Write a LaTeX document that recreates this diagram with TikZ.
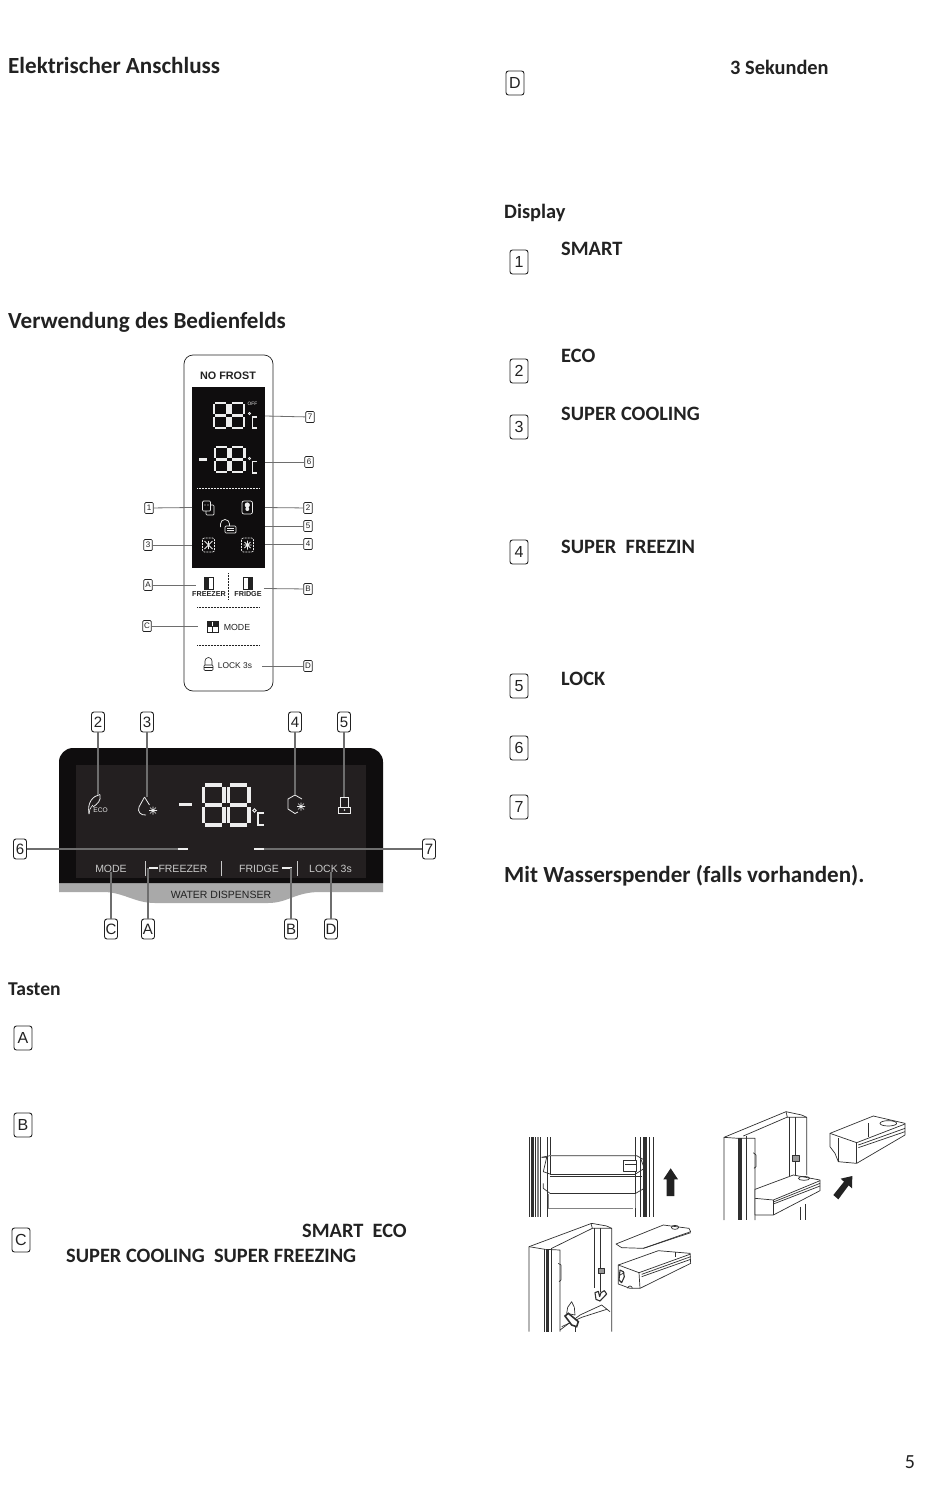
\documentclass[tikz,border=0pt]{standalone}
\usepackage{fontspec}
\setmainfont{Carlito}
\newfontfamily\lab{Liberation Sans}
\usetikzlibrary{arrows.meta,calc}
\definecolor{ink}{HTML}{222222}
\definecolor{disp}{HTML}{0F0D0E}
\definecolor{dispin}{HTML}{231F20}
\definecolor{strip}{HTML}{A9A9A9}
\definecolor{conn}{HTML}{6E6E6E}
\definecolor{seg}{HTML}{EDEDED}
\definecolor{art}{HTML}{303030}
\newcommand{\fs}[1]{\fontsize{#1}{#1}\selectfont}
% x y w h linewidth
\newcommand{\segeight}[5]{%
 \pgfmathsetmacro{\xa}{#1}\pgfmathsetmacro{\xb}{#1+#3}\pgfmathsetmacro{\ya}{#2}\pgfmathsetmacro{\yb}{#2+#4}\pgfmathsetmacro{\ym}{#2+#4/2}%
 \pgfmathsetmacro{\g}{#5*0.62}%
 \draw[seg,line width=#5pt]
  ({\xa+\g},\ya)--({\xb-\g},\ya) ({\xa+\g},\ym)--({\xb-\g},\ym) ({\xa+\g},\yb)--({\xb-\g},\yb)
  (\xa,{\ya+\g})--(\xa,{\ym-\g}) (\xb,{\ya+\g})--(\xb,{\ym-\g})
  (\xa,{\ym+\g})--(\xa,{\yb-\g}) (\xb,{\ym+\g})--(\xb,{\yb-\g});}
\tikzset{
 x=1pt,y=-1pt,
 head/.style={font=\bfseries\fs{23.1},text=ink,anchor=base west,inner sep=0pt},
 sub/.style={font=\bfseries\fs{20.4},text=ink,anchor=base west,inner sep=0pt,yshift=-.7pt},
 bigbox/.style={draw=ink,line width=.9pt,rounded corners=2.5pt,minimum width=18pt,minimum height=24pt,inner sep=0pt,font=\lab\fs{16},text=ink},
 midbox/.style={draw=ink,line width=.9pt,rounded corners=2.5pt,minimum width=13pt,minimum height=20pt,inner sep=0pt,font=\lab\fs{15},text=ink},
 smallbox/.style={draw=ink,line width=.7pt,rounded corners=1pt,minimum width=8.5pt,minimum height=11pt,inner sep=0pt,font=\lab\fs{8},text=ink},
 thinconn/.style={draw=conn,line width=.8pt},
 fatconn/.style={draw=conn,line width=1.5pt},
 paneltxt/.style={font=\lab\bfseries\fs{7.2},text=ink,inner sep=0pt},
 lcdtxt/.style={font=\lab\fs{10.5},text=seg!85!black,inner sep=0pt},
 arte/.style={draw=art,line width=.7pt,line join=round},
 artb/.style={draw=art,line width=1.6pt},
 artl/.style={draw=art!60,line width=.7pt},
}
\begin{document}
\begin{tikzpicture}
\useasboundingbox (0,0) rectangle (950,1488);
\fill[white] (0,0) rectangle (950,1488);

% ---- running text
\node[head] (t1) at (8,73.5) {Elektrischer Anschluss};
\node[head] (t2) at (8,328) {Verwendung des Bedienfelds};
\node[head] (t3) at (504,882) {Mit Wasserspender (falls vorhanden).};
\node[sub] (t4) at (730,74) {3 Sekunden};
\node[sub] (t5) at (504,218) {Display};
\node[sub,font=\bfseries\fs{19.6}] (t6) at (8,995) {Tasten};
\node[sub] (t7) at (561,255) {SMART};
\node[sub] (t8) at (561,362) {ECO};
\node[sub] (t9) at (561,420) {SUPER COOLING};
\node[sub] (t10) at (561,553) {SUPER\ \ FREEZIN};
\node[sub] (t11) at (561,685) {LOCK};
\node[sub] (t12) at (302,1237) {SMART\ \ ECO};
\node[sub] (t13) at (66,1262) {SUPER COOLING\ \ SUPER FREEZING};
\node[font=\fs{20},text=ink,anchor=base,inner sep=0pt] (pg) at (910,1468) {5};

% ---- text boxes
\node[bigbox] (kD) at (515,83) {D};
\node[bigbox] (k1) at (519,262) {1};
\node[bigbox] (k2) at (519,371) {2};
\node[bigbox] (k3) at (519,427) {3};
\node[bigbox] (k4) at (519,552) {4};
\node[bigbox] (k5) at (519,686) {5};
\node[bigbox] (k6) at (519,748) {6};
\node[bigbox] (k7) at (519,807) {7};
\node[bigbox] (kA) at (23,1038) {A};
\node[bigbox] (kB) at (23,1125) {B};
\node[bigbox] (kC) at (21,1240) {C};

% ---- vertical panel
\draw[ink,line width=.7pt,rounded corners=9pt] (184,355) rectangle (273,691);
\node[font=\lab\bfseries\fs{10.8},text=ink,inner sep=0pt] (nf) at (228,376) {NO FROST};
\fill[disp] (192,387) rectangle (265,568);
\segeight{214}{403}{13.5}{25}{2.2}
\segeight{230.5}{403}{13.5}{25}{2.2}
\node[font=\lab\fs{4.8},text=seg,inner sep=0pt] (off) at (252.5,404) {OFF};
\draw[seg,line width=.7pt] (249.5,413.5) circle (1.2);
\draw[seg,line width=1.1pt] (256.5,417)--(252.5,417)--(252.5,428)--(256.5,428);
\draw[seg,line width=2.4pt] (199,459.5)--(207,459.5);
\segeight{215}{447}{13.5}{25}{2.2}
\segeight{231}{447}{13.5}{25}{2.2}
\draw[seg,line width=.7pt] (249.5,458.5) circle (1.2);
\draw[seg,line width=1.1pt] (256.5,461.5)--(252.5,461.5)--(252.5,473)--(256.5,473);
\draw[seg,densely dotted,line width=.5pt] (197,488)--(260,488);
% icons
\draw[seg,line width=.7pt,rounded corners=1pt] (202.5,501)rectangle(210.5,511);
\draw[seg,line width=.7pt,rounded corners=1pt] (210.5,505)--(214,505)--(214,515)--(206,515)--(206,511);
\fill[seg] (205,505) circle (.7) (208,505) circle (.7);
\draw[seg,line width=.7pt,rounded corners=2pt] (242,501)rectangle(252.5,514);
\fill[seg] (247.3,505) circle (2.6) (247.3,509) circle (2);
\draw[seg,line width=.7pt] (220.5,527)--(220.5,524) arc (180:360:4.5)--(229.5,526);
\draw[seg,line width=.7pt,rounded corners=1pt] (225,526) rectangle (236,533);
\draw[seg,line width=.5pt] (227,528.5)--(234,528.5) (227,530.5)--(234,530.5);
\draw[seg,dash pattern=on 2pt off 1pt,line width=.7pt,rounded corners=2pt] (202.5,538)rectangle(214.5,552);
\draw[seg,line width=.8pt] (204.5,541)--(212.5,549) (212.5,541)--(204.5,549) (208.5,541)--(208.5,549);
\draw[seg,dash pattern=on 2pt off 1pt,line width=.7pt,rounded corners=2pt] (241.5,538)rectangle(253.5,552);
\draw[seg,line width=.8pt] (243.5,545)--(251.5,545) (247.5,540.5)--(247.5,549.5) (244.5,542)--(250.5,548) (250.5,542)--(244.5,548);
% keys
\draw[ink,line width=.6pt] (204.5,577) rectangle (213,589);
\fill[ink] (204.5,577) rectangle (209,589);
\node[paneltxt] (fz) at (209,594.5) {FREEZER};
\draw[ink,line width=.6pt] (243.5,577) rectangle (252,589);
\fill[ink] (248,577) rectangle (252,589);
\node[paneltxt] (fr) at (248,594.5) {FRIDGE};
\draw[ink,densely dotted,line width=.5pt] (228.5,573)--(228.5,600);
\draw[ink,densely dotted,line width=.5pt] (197,607.5)--(260,607.5);
\fill[ink] (207,621) rectangle (218,626.5);
\draw[ink,line width=.6pt] (207,621) rectangle (218,632) (212.5,626.5)--(212.5,632);
\draw[white,line width=.5pt] (212.5,621.5)--(212.5,626);
\node[font=\lab\fs{8.8},text=ink,inner sep=0pt] (md) at (237,627) {MODE};
\draw[ink,densely dotted,line width=.5pt] (197,645.5)--(260,645.5);
\draw[ink,line width=.6pt] (205,665)--(205,661) arc (180:360:3.5)--(212,665);
\draw[ink,line width=.6pt,rounded corners=1pt] (204,665) rectangle (213,670.5) (204,667.5)--(213,667.5);
\node[font=\lab\fs{8.4},text=ink,inner sep=0pt] (lk) at (235,665.5) {LOCK 3s};

% small call-outs
\node[smallbox] (s7) at (310,417) {7};
\node[smallbox] (s6) at (309,462) {6};
\node[smallbox] (s1) at (149,508) {1};
\node[smallbox] (s2) at (308,508) {2};
\node[smallbox] (s5) at (308,526) {5};
\node[smallbox] (s3) at (148,545) {3};
\node[smallbox] (s4) at (308,544) {4};
\node[smallbox] (sA) at (148,585) {A};
\node[smallbox] (sB) at (308,589) {B};
\node[smallbox] (sC) at (147,626) {C};
\node[smallbox] (sD) at (308,666) {D};
\coordinate (e7) at (265,416);
\coordinate (e6) at (265,462);
\coordinate (e1) at (192,507.5);
\coordinate (e2) at (265,507.5);
\coordinate (e5) at (265,526);
\coordinate (e3) at (192,545);
\coordinate (e4) at (265,544);
\coordinate (eA) at (196,585);
\coordinate (eB) at (264,588.5);
\coordinate (eC) at (198,626);
\coordinate (eD) at (262,666);
\draw[thinconn] (s7)--(e7); \draw[thinconn] (s6)--(e6);
\draw[thinconn] (s1)--(e1); \draw[thinconn] (s2)--(e2);
\draw[thinconn] (s5)--(e5); \draw[thinconn] (s3)--(e3);
\draw[thinconn] (s4)--(e4); \draw[thinconn] (sA)--(eA);
\draw[thinconn] (sB)--(eB); \draw[thinconn] (sC)--(eC);
\draw[thinconn] (sD)--(eD);

% ---- horizontal panel
\fill[strip] (59,880) -- (59,892) -- (105,892) .. controls (125,893) and (135,903) .. (155,903)
 -- (268,903) .. controls (288,903) and (295,892) .. (320,892) -- (383,892) -- (383,880) -- cycle;
\fill[disp] (59,883) [rounded corners=14pt] -- (59,748) -- (383,748) [sharp corners] -- (383,883) -- cycle;
\fill[dispin] (76,765) rectangle (366,878);
\node[font=\lab\fs{10.5},text=ink,inner sep=0pt] (wd) at (221,895) {WATER\ DISPENSER};
\draw[seg,line width=3.6pt] (179,804.5)--(192,804.5);
\segeight{203.5}{785}{20.5}{40}{3.2}
\segeight{228.5}{785}{20.5}{40}{3.2}
\draw[seg,line width=.9pt] (254.5,810.5) circle (1.7);
\draw[seg,line width=1.5pt] (264,813)--(258,813)--(258,825)--(264,825);
% icons
\coordinate (j2) at (98,795);
\draw[seg,line width=.8pt] (89,814) .. controls (87,802) and (93,796) .. (100,794.5);
\draw[seg,line width=.8pt] (100,794.5) .. controls (101.5,801) and (97,804) .. (93,807);
\draw[seg,line width=.6pt] (93,805) .. controls (90,808) and (89,811) .. (89,814);
\node[font=\lab\fs{6.6},text=seg,inner sep=0pt] (eco) at (100.5,810.5) {ECO};
\coordinate (j3) at (147,797);
\draw[seg,line width=.8pt] (144.5,797) -- (139,807) .. controls (137,812) and (141,815.5) .. (146,815);
\draw[seg,line width=.8pt] (144.5,797)--(149.5,805);
\draw[seg,line width=.6pt] (149,810.5)--(157,810.5) (153,806.5)--(153,814.5) (150,807.5)--(156,813.5) (156,807.5)--(150,813.5);
\coordinate (j4) at (295,795);
\draw[seg,line width=.8pt] (302,799)--(295,795)--(288,799)--(288,809)--(295,813.5)--(298,812);
\draw[seg,line width=.6pt] (297,806.5)--(305,806.5) (301,802.5)--(301,810.5) (298,803.5)--(304,809.5) (304,803.5)--(298,809.5);
\coordinate (j5) at (344,797);
\draw[seg,line width=.8pt] (340,807)--(340,797.5)--(348.5,797.5)--(348.5,807);
\draw[seg,line width=.8pt] (338.5,807)rectangle(350.5,813.5);
\fill[seg] (344.5,810) circle (.8);
% labels in LCD
\node[lcdtxt] (mo) at (111,868.5) {MODE};
\node[lcdtxt] (fzb) at (183,868.5) {FREEZER};
\node[lcdtxt] (frb) at (259,868.5) {FRIDGE};
\node[lcdtxt] (lkb) at (330.5,868.5) {LOCK 3s};
\draw[seg!85!black,line width=.7pt] (145.5,861)--(145.5,876) (221,861)--(221,876) (297,861)--(297,876);
\coordinate (dA) at (148,868);
\coordinate (dB) at (291,868);
\coordinate (d6) at (178,849);
\coordinate (d7) at (264,849);
\draw[seg,line width=1.8pt] (149,868)--(158,868) (282,868)--(292,868) (178,849)--(188,849) (254,849)--(264,849);
% call-outs
\node[midbox] (b2) at (98,722) {2};
\node[midbox] (b3) at (147,722) {3};
\node[midbox] (b4) at (295,722) {4};
\node[midbox] (b5) at (344,722) {5};
\node[midbox] (bC) at (111,929) {C};
\node[midbox] (bA) at (148,929) {A};
\node[midbox] (bB) at (291,929) {B};
\node[midbox] (bD) at (331,929) {D};
\node[midbox] (b6) at (20,849) {6};
\node[midbox] (b7) at (429,849) {7};
\draw[fatconn] (b2)--(j2); \draw[fatconn] (b3)--(j3);
\draw[fatconn] (b4)--(j4); \draw[fatconn] (b5)--(j5);
\draw[fatconn] (bC)--(mo.south); \draw[fatconn] (bA)--(dA);
\draw[fatconn] (bB)--(dB); \draw[fatconn] (bD)--(lkb.south-|bD);
\draw[fatconn] (b6)--(d6); \draw[fatconn] (b7)--(d7);

% ---- illustration 1
\begin{scope}[shift={(515,1100)},x=.33333pt,y=-.33333pt]
\draw[arte] (42,112)--(42,350) (62,112)--(62,350) (76,112)--(76,350) (96,112)--(96,350) (107,112)--(107,165);
\draw[artb,line width=3.2pt] (53,112)--(53,350);
\draw[artl,line width=1.8pt] (69,112)--(69,350);
\draw[arte] (362,112)--(362,350) (376,112)--(376,350) (402,112)--(402,350) (415,112)--(415,350);
\draw[artb,line width=3.2pt] (390,112)--(390,350);
\draw[arte] (80,172)--(105,167)--(365,167)--(388,180);
\draw[arte] (80,172)--(95,172)--(85,215)--(105,222);
\draw[arte] (105,167)--(105,222);
\draw[artb] (105,223)--(360,223);
\draw[arte] (360,223)--(388,205)--(375,170);
\draw[arte] (105,230)--(380,230);
\draw[arte,fill=white] (325,180)--(365,180)--(365,215)--(325,215)--cycle;
\draw[arte] (330,192)--(365,192);
\draw[arte] (85,250)--(85,265)--(105,280);
\draw[artb] (105,281)--(360,281);
\draw[arte] (360,281)--(388,265)--(388,250);
\draw[artl] (100,325)--(355,325);
\draw[artl] (100,282)--(100,325) (362,282)--(362,325);
\fill[ink] (455,288)--(455,238)--(445,238)--(467,205)--(489,238)--(478,238)--(478,288)--cycle;
% ---- illustration 3
\draw[arte] (42,695)--(42,440)--(230,370)--(275,378)--(290,385)--(290,695);
\draw[arte] (42,440)--(90,448)--(135,450)--(135,695);
\draw[arte] (110,445)--(232,385)--(290,385);
\draw[arte] (228,370)--(232,385);
\draw[artb,line width=2.6pt] (97,448)--(97,695);
\draw[arte] (88,448)--(88,695) (110,445)--(110,695);
\draw[arte] (237,385)--(237,565) (255,385)--(255,505) (255,520)--(255,575);
\draw[arte] (130,490)--(138,495)--(138,540)--(132,545);
\draw[arte,fill=art!50] (250,505) rectangle (268,521);
\draw[arte,line width=1.1pt] (240,578)--(243,598)--(255,603)--(275,582)--(268,572)--(258,578)--(254,590)--(250,574)--cycle;
\draw[arte] (135,690)--(195,645)--(260,615)--(285,635);
\draw[arte] (140,680)--(200,652)--(275,628);
\draw[arte,fill=white] (170,605)--(158,622)--(155,640)--(180,645)--(178,622)--cycle;
\draw[artb,fill=white] (150,648)--(160,640)--(190,665)--(185,680)--(170,675)--cycle;
\draw[arte] (180,680)--(180,695);
\draw[arte] (303,432)--(445,375)--(522,385)--(527,395)--(385,445)--(320,443)--cycle;
\draw[arte] (385,445)--(527,398);
\draw[arte] (480,382) ellipse (11 and 6);
\draw[arte] (310,495)--(430,452)--(525,460)--(527,490)--(375,565)--(345,565)--(310,552)--cycle;
\draw[arte] (310,495)--(372,518)--(527,462);
\draw[arte] (372,518)--(375,565);
\draw[arte] (380,523)--(527,470);
\draw[arte] (380,530)--(527,478);
\draw[arte] (480,455)--(480,470);
\draw[arte,line width=1.1pt] (315,510)--(325,515)--(328,530)--(320,548)--(312,540)--cycle;
\draw[arte] (315,525)--(328,518);
\draw[arte] (338,565) arc (180:360:7);
\end{scope}
% ---- illustration 2
\begin{scope}[shift={(710,1100)},x=.33333pt,y=-.33333pt]
\draw[arte] (42,360)--(42,112)--(228,35)--(275,45)--(290,52)--(290,225);
\draw[arte] (42,112)--(85,115)--(135,115)--(135,360);
\draw[arte] (100,108)--(230,52)--(290,52);
\draw[arte] (228,35)--(232,52);
\draw[artb,line width=2.6pt] (92,115)--(92,360);
\draw[arte] (84,115)--(84,360) (108,108)--(108,360);
\draw[arte] (237,52)--(237,228) (255,52)--(255,225);
\draw[arte,fill=art!50] (248,165) rectangle (268,183);
\draw[arte] (130,158)--(138,165)--(138,200)--(132,205);
\draw[arte,fill=white] (135,268)--(250,225)--(330,240)--(330,272)--(190,345)--(135,345)--cycle;
\draw[arte] (135,295)--(190,300)--(330,242);
\draw[arte] (190,300)--(190,345);
\draw[arte] (190,306)--(330,250);
\draw[arte] (190,312)--(330,258);
\draw[arte] (282,235) ellipse (17 and 6);
\draw[arte] (270,320)--(270,360) (287,312)--(287,360);
\draw[arte] (360,100)--(490,48)--(585,70)--(585,105)--(440,190)--(385,185)--(375,160)--(360,140)--cycle;
\draw[arte] (360,100)--(440,128)--(585,72);
\draw[arte] (440,128)--(440,190);
\draw[arte] (445,135)--(585,85);
\draw[arte] (445,143)--(585,95);
\draw[arte] (475,70)--(475,110);
\draw[arte] (535,70) ellipse (25 and 8);
\draw[arte] (385,115)--(385,185);
\fill[ink] (370,285)--(402,245)--(392,236)--(427,228)--(426,265)--(416,256)--(385,298)--cycle;
\end{scope}
\end{tikzpicture}
\end{document}
